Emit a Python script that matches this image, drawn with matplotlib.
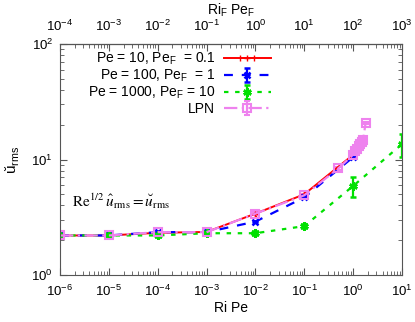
import numpy as np
import matplotlib
matplotlib.use('Agg')
import matplotlib.pyplot as plt
from matplotlib.ticker import LogLocator, NullFormatter

plt.rcParams['font.family'] = ['Liberation Sans', 'DejaVu Sans']
plt.rcParams['mathtext.fontset'] = 'custom'
plt.rcParams['mathtext.rm'] = 'Liberation Sans'
plt.rcParams['mathtext.it'] = 'Liberation Sans:italic'

# Ri Pe values and u_rms
ripe = [1e-6, 1e-5, 1e-4, 1e-3, 1e-2, 1e-1, 1e0]
u_pe10 = [2.2, 2.2, 2.32, 2.36, 3.4, 5.0, 11.0]
u_pe100 = [2.2, 2.2, 2.35, 2.35, 2.9, 4.7, 10.5]

ripe_pe1000 = [1e-6, 1e-5, 1e-4, 1e-3, 1e-2, 1e-1, 1e0, 1e1]
u_pe1000 = [2.2, 2.2, 2.2, 2.3, 2.3, 2.65, 5.9, 13.6]
err_pe1000 = [0.05, 0.05, 0.08, 0.08, 0.1, 0.1, 1.2, 3.0]

ripe_lpn = [1e-6, 1e-5, 1e-4, 1e-3, 1e-2, 1e-1, 0.5, 1.0, 1.1, 1.2, 1.3, 1.4, 1.5, 1.6, 1.8]
u_lpn = [2.2, 2.2, 2.35, 2.35, 3.4, 4.9, 8.4, 11.0, 11.8, 12.4, 13.0, 13.6, 14.2, 14.8, 20.7]
err_lpn = [0.05, 0.05, 0.05, 0.05, 0.1, 0.1, 0.3, 0.5, 0.5, 0.6, 0.6, 0.7, 0.8, 1.0, 0.5]

fig = plt.figure(figsize=(4.15, 3.22), dpi=100)
ax = fig.add_axes([0.1446, 0.146, 0.824, 0.717])

ax.errorbar(ripe, u_pe10, xerr=[x * 0.02 for x in ripe], color='#ff0000', lw=1.4,
            marker='+', ms=5, capsize=2, label='Pe = 10, Pe$_\\mathrm{F}$  = 0.1')
ax.errorbar(ripe, u_pe100, yerr=[0.05] * len(ripe), color='#0000ff', lw=1.6, ls=(0, (4, 4)),
            marker='x', ms=5, mew=1.8, capsize=2, label='Pe = 100, Pe$_\\mathrm{F}$  = 1')
ax.errorbar(ripe_pe1000, u_pe1000, yerr=err_pe1000, color='#00e000', lw=1.6, ls=(0, (2, 3)),
            marker=(6, 2, 0), ms=6, mew=1.8, capsize=2, label='Pe = 1000, Pe$_\\mathrm{F}$ = 10')
ax.errorbar(ripe_lpn, u_lpn, yerr=err_lpn, color='#ee82ee', lw=1.6, ls=(0, (6, 2, 1, 2)),
            marker='s', ms=6, mfc='none', mew=1.5, capsize=2, label='LPN')

ax.set_xscale('log')
ax.set_yscale('log')
ax.set_xlim(1e-6, 1e1)
ax.set_ylim(1, 100)
ax.set_xlabel('Ri Pe', fontsize=10, labelpad=2)
ax.set_ylabel(r'$\breve{\mathrm{u}}_\mathrm{rms}$', fontsize=11, labelpad=7)

ax.xaxis.set_major_locator(LogLocator(base=10, numticks=20))
ax.xaxis.set_minor_locator(LogLocator(base=10, subs=np.arange(2, 10), numticks=20))
ax.xaxis.set_minor_formatter(NullFormatter())
ax.tick_params(which='both', direction='in', labelsize=9.5, color='#555555', pad=5)
ax.tick_params(axis='x', pad=6)
ax.tick_params(axis='y', which='both', right=True)
ax.tick_params(which='major', length=5)
ax.tick_params(which='minor', length=3)
for s in ax.spines.values():
    s.set_color('#555555')

top = ax.secondary_xaxis('top', functions=(lambda x: x * 100, lambda x: x / 100))
top.set_xscale('log')
top.xaxis.set_major_locator(LogLocator(base=10, numticks=20))
top.xaxis.set_minor_locator(LogLocator(base=10, subs=np.arange(2, 10), numticks=20))
top.xaxis.set_minor_formatter(NullFormatter())
top.tick_params(which='both', direction='in', labelsize=9.5, color='#555555', pad=7)
top.tick_params(which='major', length=5)
top.tick_params(which='minor', length=3)
top.set_xlabel('Ri$_\\mathrm{F}$ Pe$_\\mathrm{F}$', fontsize=10, labelpad=3)

ax.text(1.8e-6, 3.9, r'$\mathrm{Re}^{1/2}\,\hat{u}_{\mathrm{rms}} = \breve{u}_{\mathrm{rms}}$',
        fontsize=11, family='serif', math_fontfamily='stix')

ax.legend(loc='upper right', bbox_to_anchor=(0.645, 1.015), frameon=False, markerfirst=False,
          fontsize=10, handlelength=3.4, labelspacing=0.05, borderaxespad=0.3,
          handletextpad=0.6)

fig.savefig('out.png', dpi=100)
